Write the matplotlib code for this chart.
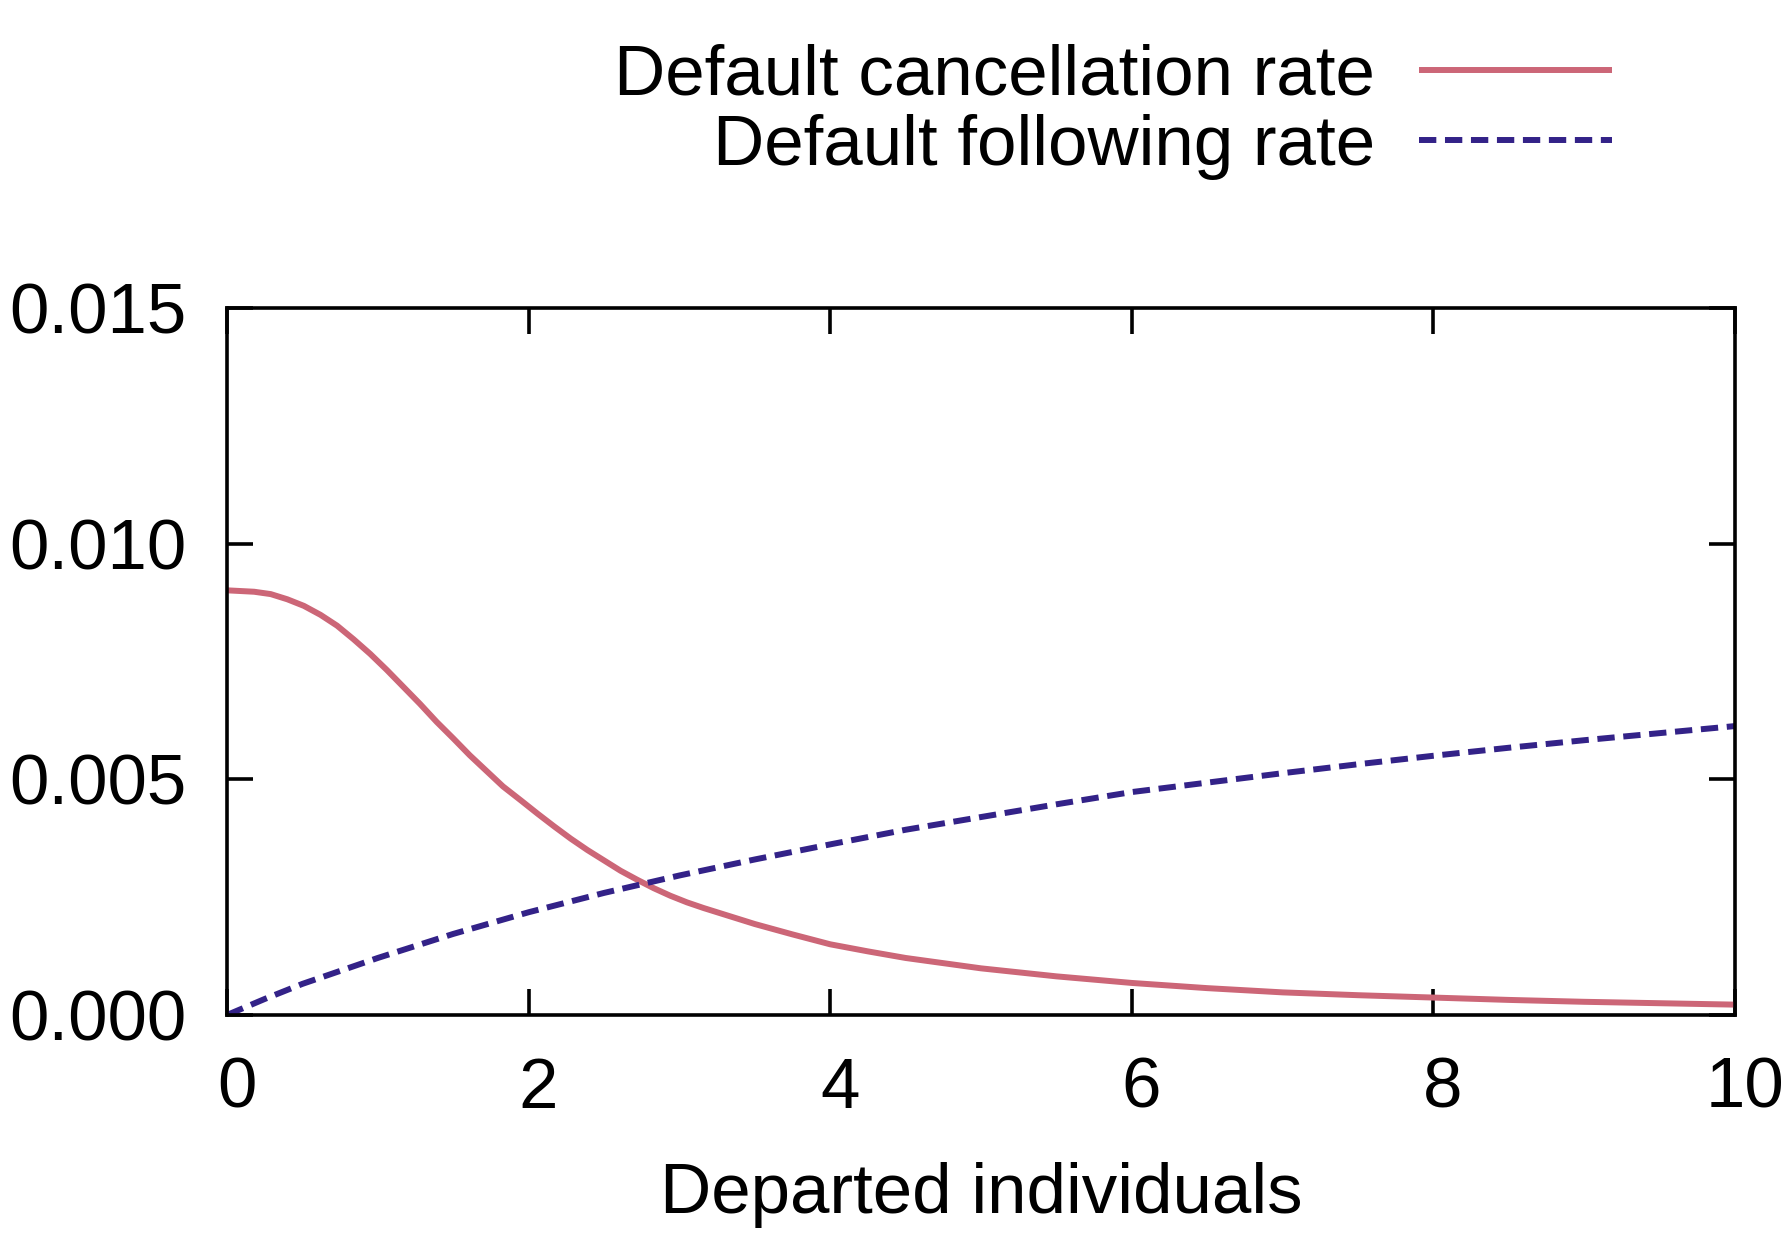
import matplotlib
matplotlib.use("Agg")
import matplotlib.pyplot as plt
from matplotlib.ticker import FormatStrFormatter
from matplotlib.transforms import ScaledTranslation

plt.rcParams['font.family'] = ['Liberation Sans', 'DejaVu Sans']

# Data
cancel_x = [0.0, 0.18, 0.29, 0.40, 0.51, 0.62, 0.73, 0.84, 0.95, 1.06, 1.17, 1.28,
            1.39, 1.50, 1.61, 1.72, 1.83, 1.95, 2.06, 2.17, 2.28, 2.39, 2.50, 2.61,
            2.72, 2.83, 2.94, 3.05, 3.16, 3.27, 3.5, 3.75, 4.0, 4.25, 4.5, 5.0, 5.5,
            6.0, 6.5, 7.0, 7.5, 8.0, 8.5, 9.0, 9.5, 10.0]
cancel_y = [0.00901, 0.00898, 0.00893, 0.00882, 0.00868, 0.00849, 0.00826, 0.00797,
            0.00766, 0.00732, 0.00696, 0.00660, 0.00622, 0.00587, 0.00551, 0.00518,
            0.00485, 0.00455, 0.00427, 0.00400, 0.00374, 0.00350, 0.00328, 0.00306,
            0.00287, 0.00269, 0.00253, 0.00239, 0.00227, 0.00216, 0.00193, 0.00171,
            0.00150, 0.00135, 0.00121, 0.00099, 0.00082, 0.00068, 0.00057, 0.00048,
            0.00042, 0.00037, 0.00032, 0.00028, 0.00025, 0.00022]

follow_x = [0, 0.25, 0.5, 1.0, 1.5, 2.0, 2.5, 3.0, 3.5, 4.0, 4.5, 5.0, 5.5, 6.0, 6.5,
            7.0, 7.5, 8.0, 8.5, 9.0, 9.5, 10.0]
follow_y = [0.0, 0.00034, 0.00066, 0.00121, 0.00172, 0.00218, 0.00259, 0.00296,
            0.00330, 0.00362, 0.00393, 0.00420, 0.00447, 0.00473, 0.00493, 0.00513,
            0.00532, 0.00550, 0.00567, 0.00583, 0.00598, 0.00613]

labels = ["Default cancellation rate", "Default following rate"]
colors = ["#CC6677", "#332288"]
x_ticks = [0, 2, 4, 6, 8, 10]
y_ticks = [0.0, 0.005, 0.010, 0.015]
x_label = "Departed individuals"

FS = 51
W, H = 1783, 1233
fig = plt.figure(figsize=(W / 100, H / 100), dpi=100)
ax = fig.add_axes([227 / W, 1 - 1015 / H, (1735 - 227) / W, (1015 - 308) / H])

ax.plot(cancel_x, cancel_y, color=colors[0], lw=4.3, label=labels[0],
        solid_joinstyle='round', solid_capstyle='butt')
ax.plot(follow_x, follow_y, color=colors[1], lw=4.3, label=labels[1],
        dashes=(2.9, 1.45), dash_capstyle='butt')

ax.set_xlim(0, 10)
ax.set_ylim(0, 0.015)
ax.set_xticks(x_ticks)
ax.set_yticks(y_ticks)
ax.yaxis.set_major_formatter(FormatStrFormatter('%.3f'))
ax.tick_params(direction='in', length=19, width=2.6, top=True, right=True,
               labelsize=FS)
ax.tick_params(axis='x', pad=30)
ax.tick_params(axis='y', pad=29.5)
for s in ax.spines.values():
    s.set_linewidth(2.6)
ax.set_xlabel(x_label, fontsize=FS, labelpad=28)

# gnuplot places x tick labels slightly right of the tick
off = ScaledTranslation(7 / 72, 0, fig.dpi_scale_trans)
for t in ax.xaxis.get_major_ticks(len(x_ticks)):
    t.label1.set_transform(t.label1.get_transform() + off)

leg = fig.legend(loc='center right', bbox_to_anchor=(1612 / W, 1 - 112 / H),
                 bbox_transform=fig.transFigure, frameon=False, markerfirst=False,
                 fontsize=FS, handlelength=2.73, handletextpad=0.62,
                 borderpad=0, borderaxespad=0, labelspacing=0.06)

fig.savefig("out.png", dpi=100)
